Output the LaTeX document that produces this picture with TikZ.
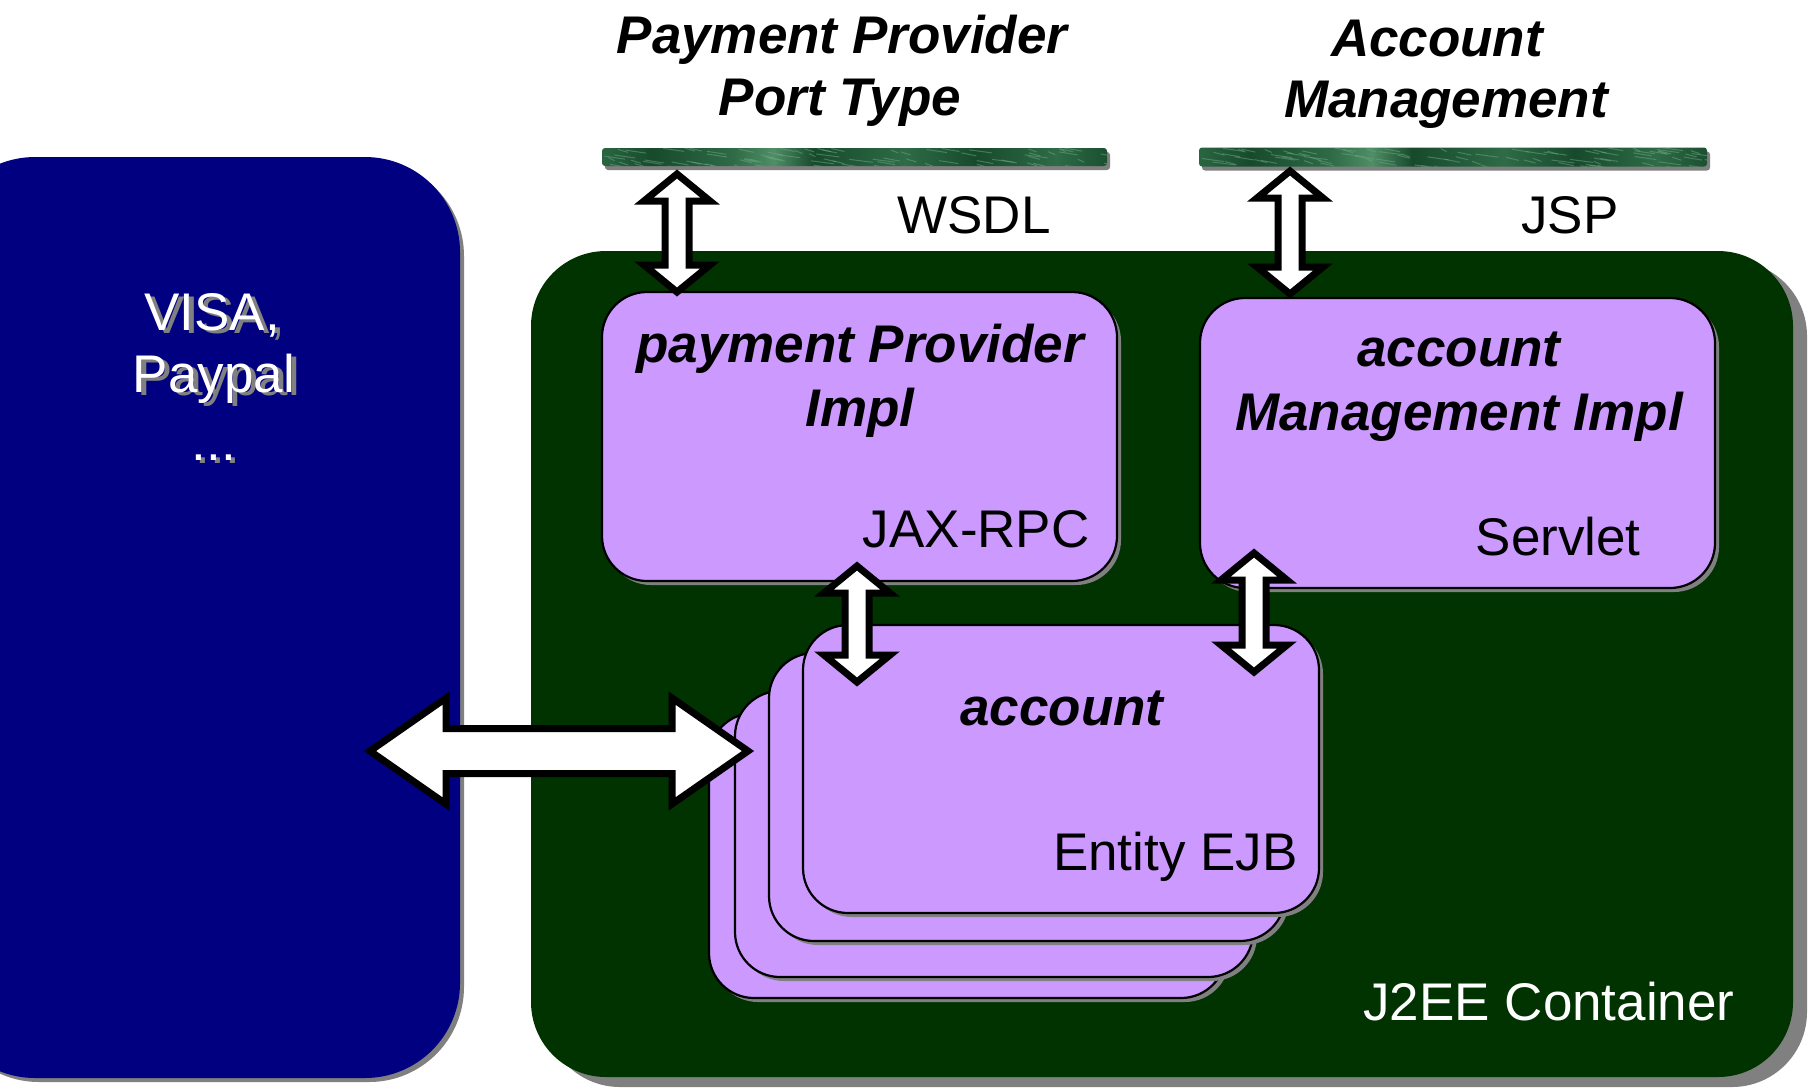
\documentclass[tikz,border=0pt]{standalone}
\usepackage{fontspec}
\setmainfont{Liberation Sans}
\usetikzlibrary{shadows,calc}
\definecolor{navyb}{HTML}{000080}
\definecolor{contg}{HTML}{003300}
\definecolor{lilac}{HTML}{CC99FF}
\definecolor{shgray}{HTML}{808080}
\definecolor{mdk}{HTML}{174A2C}
\definecolor{mmid}{HTML}{2E6B46}
\definecolor{mlt}{HTML}{6FA884}
\definecolor{mhl}{HTML}{4F8E66}
\pgfdeclarehorizontalshading{marble}{100bp}{color(0bp)=(mdk); color(6bp)=(mmid); color(10bp)=(mdk); color(18bp)=(mdk); color(24bp)=(mmid); color(30bp)=(mdk); color(38bp)=(mmid); color(42bp)=(mhl); color(46bp)=(mdk); color(55bp)=(mmid); color(62bp)=(mdk); color(70bp)=(mmid); color(76bp)=(mdk); color(85bp)=(mmid); color(92bp)=(mdk); color(100bp)=(mmid)}
% vertical double block arrow between two named coordinates (top, bottom)
\newcommand{\myvarrow}[2]{%
  \path[barrow] let \p1=(#1), \p2=(#2) in
    (\x1,\y1) -- (\x1+16.5pt,\y1-13.5pt) -- (\x1+6pt,\y1-13.5pt) --
    (\x1+6pt,\y2+13.5pt) -- (\x1+16.5pt,\y2+13.5pt) -- (\x2,\y2) --
    (\x1-16.5pt,\y2+13.5pt) -- (\x1-6pt,\y2+13.5pt) --
    (\x1-6pt,\y1-13.5pt) -- (\x1-16.5pt,\y1-13.5pt) -- cycle;}
% horizontal double block arrow between two named coordinates (left, right)
\newcommand{\myharrow}[2]{%
  \path[barrow] let \p1=(#1), \p2=(#2) in
    (\x1,\y1) -- (\x1+38pt,\y1+26.5pt) -- (\x1+38pt,\y1+11.25pt) --
    (\x2-38pt,\y1+11.25pt) -- (\x2-38pt,\y1+26.5pt) -- (\x2,\y2) --
    (\x2-38pt,\y1-26.5pt) -- (\x2-38pt,\y1-11.25pt) --
    (\x1+38pt,\y1-11.25pt) -- (\x1+38pt,\y1-26.5pt) -- cycle;}
\begin{document}
\begin{tikzpicture}[x=0.5pt,y=-0.5pt,
  shbox/.style={drop shadow={shadow xshift=2pt,shadow yshift=-2pt,fill=shgray,opacity=1}},
  pbox/.style={rectangle,rounded corners=22.5pt,draw=black,line width=1.1pt,fill=lilac,
    minimum width=257.5pt,minimum height=144.5pt,inner sep=0pt,shbox},
  bar/.style={rectangle,rounded corners=1.5pt,shading=marble,inner sep=0pt,
    drop shadow={shadow xshift=1.5pt,shadow yshift=-2pt,fill=shgray,opacity=1},
    path picture={
      \foreach \k in {1,...,90}{
        \pgfmathsetmacro{\rx}{rnd}\pgfmathsetmacro{\ry}{rnd}\pgfmathsetmacro{\rl}{3+9*rnd}
        \draw[mlt,opacity=0.5,line width=0.5pt]
          ($(path picture bounding box.north west)!\rx!(path picture bounding box.north east)$)
          ++(0pt,-\ry*10pt) -- ++(\rl*1pt,-1.5pt);
      }}},
  barrow/.style={draw=black,fill=white,line width=3.5pt,line join=miter},
  txt/.style={inner sep=0pt,anchor=base,font=\fontsize{26.5pt}{31pt}\selectfont},
  bi/.style={txt,font=\fontsize{26.5pt}{31pt}\selectfont\bfseries\itshape}]
\pgfmathsetseed{4242}
\useasboundingbox (0,0) rectangle (1814,1089);
\clip (0,0) rectangle (1814,1089);

% external provider box
\node[rectangle,rounded corners=47.5pt,fill=navyb,minimum width=260pt,minimum height=460.5pt,
  inner sep=0pt,drop shadow={shadow xshift=2pt,shadow yshift=-2pt,fill=shgray,opacity=1}]
  (ext) at (200,617.5) {};
\node[txt,text=shgray] (visas) at (217,333) {VISA,};
\node[txt,text=white] (visa) at (212,330) {VISA,};
\node[txt,text=shgray] (paypals) at (219,395) {Paypal};
\node[txt,text=white] (paypal) at (214,392) {Paypal};
\node[txt,text=shgray] (dotss) at (218,463) {...};
\node[txt,text=white] (dots) at (214,460) {...};

% J2EE container
\node[rectangle,rounded corners=37.5pt,fill=contg,minimum width=631pt,minimum height=413pt,
  inner sep=0pt,drop shadow={shadow xshift=7pt,shadow yshift=-5pt,fill=shgray,opacity=1}]
  (cont) at (1162,664) {};
\node[txt,anchor=base west,text=white] (contlbl) at (1363,1020) {J2EE Container};

% port bars
\node[bar,minimum width=252.5pt,minimum height=9pt] (pbar) at (854.5,157) {};
\node[bar,minimum width=254pt,minimum height=9.5pt] (abar) at (1453,157) {};

% titles
\node[bi] (pt1) at (842,53) {Payment Provider};
\node[bi] (pt2) at (840,115) {Port Type};
\node[bi] (at1) at (1437,56) {Account};
\node[bi] (at2) at (1446,117) {Management};
\node[txt] (wsdl) at (974,233) {WSDL};
\node[txt] (jsp) at (1570,233) {JSP};

% implementation boxes
\node[pbox] (ppi) at (859.5,436.5) {};
\node[bi] (ppi1) at (860,362) {payment Provider};
\node[bi] (ppi2) at (860,426) {Impl};
\node[txt,anchor=base east] (jax) at (1090,547) {JAX-RPC};

\node[pbox,minimum height=145pt] (ami) at (1457.5,443) {};
\node[bi] (ami1) at (1459,366) {account};
\node[bi] (ami2) at (1459,430) {Management Impl};
\node[txt,anchor=base east] (servlet) at (1641,555) {Servlet};

% stacked entity beans (back to front)
\node[pbox,minimum width=258.5pt,minimum height=142.5pt] (acc4) at (967.5,855.5) {};
\node[pbox,minimum width=259pt,minimum height=143pt] (acc3) at (994,834) {};
\node[pbox,minimum width=258pt,minimum height=144pt] (acc2) at (1027,797) {};
\node[pbox,minimum width=258pt,minimum height=144pt] (acc1) at (1061,769) {};
\node[bi] (acct) at (1062,725) {account};
\node[txt,anchor=base east] (ejb) at (1298,870) {Entity EJB};

% arrow end points
\coordinate (a1t) at (677,174);
\coordinate (a1b) at (677,292);
\coordinate (a2t) at (1290,171);
\coordinate (a2b) at (1290,294);
\coordinate (a3t) at (857,566);
\coordinate (a3b) at (857,682);
\coordinate (a4t) at (1254,553);
\coordinate (a4b) at (1254,672);
\coordinate (hl) at (370,751);
\coordinate (hr) at (748,751);

\myharrow{hl}{hr}
\myvarrow{a1t}{a1b}
\myvarrow{a2t}{a2b}
\myvarrow{a3t}{a3b}
\myvarrow{a4t}{a4b}
\end{tikzpicture}
\end{document}
